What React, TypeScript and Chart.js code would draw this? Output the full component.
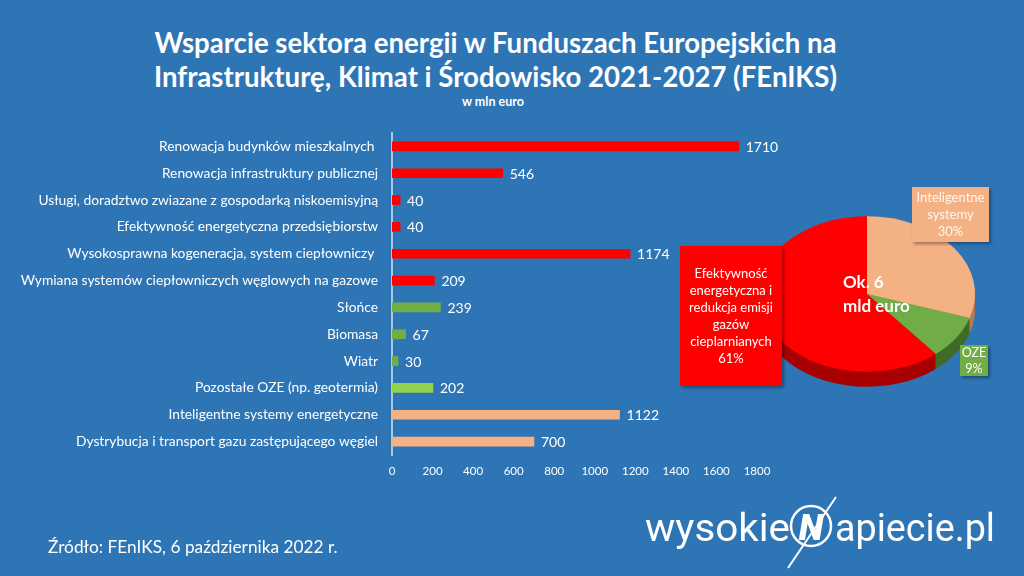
import React, { useEffect, useRef } from 'react';
import { Chart, registerables } from 'chart.js';
Chart.register(...registerables);

const categories = [
  'Renowacja budynków mieszkalnych ',
  'Renowacja infrastruktury publicznej',
  'Usługi, doradztwo zwiazane z gospodarką niskoemisyjną',
  'Efektywność energetyczna przedsiębiorstw',
  'Wysokosprawna kogeneracja, system ciepłowniczy ',
  'Wymiana systemów ciepłowniczych węglowych na gazowe',
  'Słońce',
  'Biomasa',
  'Wiatr',
  'Pozostałe OZE (np. geotermia)',
  'Inteligentne systemy energetyczne',
  'Dystrybucja i transport gazu zastępującego węgiel',
];
const values = [1710, 546, 40, 40, 1174, 209, 239, 67, 30, 202, 1122, 700];
const barColors = [
  '#FF0000', '#FF0000', '#FF0000', '#FF0000', '#FF0000', '#FF0000',
  '#70AD47', '#70AD47', '#70AD47', '#92D050',
  '#F4B183', '#F4B183',
];
const xTicks = [0, 200, 400, 600, 800, 1000, 1200, 1400, 1600, 1800];

const pieLabels = ['Inteligentne systemy', 'OZE', 'Efektywność energetyczna i redukcja emisji gazów cieplarnianych'];
const pieValues = [30, 9, 61];
const pieColors = ['#F4B183', '#70AD47', '#FF0000'];
const pieSideColors = ['#B87A52', '#3F6B25', '#A80000'];

const BG = '#2E75B6';
const FONT = 'Lato, "Open Sans", sans-serif';
const TILT = 0.72;
const DEPTH = 15;

const valueLabels = {
  id: 'valueLabels',
  afterDatasetsDraw(chart: any) {
    const ctx = chart.ctx;
    const meta = chart.getDatasetMeta(0);
    ctx.save();
    ctx.font = '14px ' + FONT;
    ctx.fillStyle = '#FFFFFF';
    ctx.textBaseline = 'middle';
    ctx.textAlign = 'left';
    meta.data.forEach((bar: any, i: number) => {
      ctx.fillText(String(values[i]), bar.x + 7, bar.y + 1);
    });
    ctx.restore();
  },
};

const pie3d = {
  id: 'pie3d',
  beforeDatasetsDraw(chart: any) {
    const ctx = chart.ctx;
    const meta = chart.getDatasetMeta(0);
    const first = meta.data[0];
    const cx = first.x;
    const cy = first.y;
    for (let d = DEPTH; d >= 1; d--) {
      ctx.save();
      ctx.translate(0, d);
      ctx.translate(cx, cy);
      ctx.scale(1, TILT);
      ctx.translate(-cx, -cy);
      meta.data.forEach((arc: any, i: number) => {
        const p = arc.getProps(['startAngle', 'endAngle', 'outerRadius'], true);
        ctx.beginPath();
        ctx.moveTo(cx, cy);
        ctx.arc(cx, cy, p.outerRadius, p.startAngle, p.endAngle);
        ctx.closePath();
        ctx.fillStyle = pieSideColors[i];
        ctx.fill();
      });
      ctx.restore();
    }
    ctx.save();
    ctx.translate(cx, cy);
    ctx.scale(1, TILT);
    ctx.translate(-cx, -cy);
  },
  afterDatasetsDraw(chart: any) {
    chart.ctx.restore();
  },
};

export default function App() {
  const barRef = useRef<HTMLCanvasElement>(null);
  const pieRef = useRef<HTMLCanvasElement>(null);

  useEffect(() => {
    const bar = new Chart(barRef.current!, {
      type: 'bar',
      data: {
        labels: categories,
        datasets: [{ data: values, backgroundColor: barColors, barThickness: 9, borderWidth: 0 }],
      },
      options: {
        indexAxis: 'y',
        responsive: false,
        animation: false,
        events: [],
        layout: { padding: { left: 0, right: 267, top: 133, bottom: 91 } },
        plugins: { legend: { display: false }, tooltip: { enabled: false }, title: { display: false } },
        scales: {
          y: {
            grid: { display: false, drawTicks: false },
            border: { display: true, color: '#A9C8E8', width: 2 },
            ticks: { color: '#FFFFFF', font: { family: FONT, size: 13.8 }, padding: 14 },
            afterFit: (s: any) => { s.width = 392; },
          },
          x: {
            min: 0,
            max: 1800,
            grid: { display: false, drawTicks: false },
            border: { display: false },
            afterBuildTicks: (s: any) => { s.ticks = xTicks.map((v) => ({ value: v })); },
            ticks: {
              color: '#FFFFFF',
              font: { family: FONT, size: 11.5 },
              padding: 9,
              callback: (v: any) => String(v),
            },
            afterFit: (s: any) => { s.height = 30; },
          },
        },
      },
      plugins: [valueLabels],
    } as any);

    const pie = new Chart(pieRef.current!, {
      type: 'pie',
      data: {
        labels: pieLabels,
        datasets: [{ data: pieValues, backgroundColor: pieColors, borderWidth: 0 }],
      },
      options: {
        responsive: false,
        animation: false,
        events: [],
        layout: { padding: 12 },
        plugins: { legend: { display: false }, tooltip: { enabled: false } },
      },
      plugins: [pie3d],
    } as any);

    return () => {
      bar.destroy();
      pie.destroy();
    };
  }, []);

  const abs = (o: React.CSSProperties): React.CSSProperties => ({ position: 'absolute', ...o });
  const boxShadow = '2px 2px 3px rgba(0,0,0,0.35)';

  return (
    <div style={{ position: 'fixed', left: 0, top: 0, width: 1024, height: 576, background: BG, fontFamily: FONT, color: '#FFFFFF', overflow: 'hidden' }}>
      <div style={abs({ left: 0, top: 26, width: 991, textAlign: 'center', fontWeight: 700, fontSize: 27.6, lineHeight: '34px' })}>
        Wsparcie sektora energii w Funduszach Europejskich na<br />
        Infrastrukturę, Klimat i Środowisko 2021-2027 (FEnIKS)
      </div>
      <div style={abs({ left: 0, top: 94, width: 986, textAlign: 'center', fontWeight: 700, fontSize: 12.5, lineHeight: '16px' })}>
        w mln euro
      </div>

      <canvas ref={barRef} width={1024} height={576} style={abs({ left: 0, top: 0, width: 1024, height: 576 })} />
      <canvas ref={pieRef} width={240} height={240} style={abs({ left: 747, top: 174, width: 240, height: 240 })} />

      <div style={abs({ left: 843, top: 270, fontWeight: 700, fontSize: 17, lineHeight: '24px' })}>
        Ok. 6<br />mld euro
      </div>

      <div style={abs({ left: 680, top: 246, width: 102, height: 140, background: '#FF0000', boxShadow, display: 'flex', alignItems: 'center', justifyContent: 'center', textAlign: 'center', fontSize: 13, lineHeight: '17px' })}>
        <div>Efektywność<br />energetyczna i<br />redukcja emisji<br />gazów<br />cieplarnianych<br />61%</div>
      </div>
      <div style={abs({ left: 912, top: 187, width: 77, height: 55, background: '#F4B183', boxShadow, display: 'flex', alignItems: 'center', justifyContent: 'center', textAlign: 'center', fontSize: 13, lineHeight: '17px', color: '#FFF8F0' })}>
        <div>Inteligentne<br />systemy<br />30%</div>
      </div>
      <div style={abs({ left: 960, top: 345, width: 28, height: 31, background: '#70AD47', boxShadow, display: 'flex', alignItems: 'center', justifyContent: 'center', textAlign: 'center', fontSize: 12.5, lineHeight: '16px' })}>
        <div>OZE<br />9%</div>
      </div>

      <div style={abs({ left: 48, top: 536, fontSize: 17.3, lineHeight: '22px' })}>
        Źródło: FEnIKS, 6 października 2022 r.
      </div>

      <svg width={1024} height={576} style={abs({ left: 0, top: 0 })}>
        <text x={645} y={541} textLength={145} lengthAdjust="spacingAndGlyphs" fill="#FFFFFF" style={{ fontFamily: 'Roboto, sans-serif', fontSize: 38 }}>wysokie</text>
        <ellipse cx={811} cy={526} rx={20} ry={20} fill="none" stroke="#FFFFFF" strokeWidth={2.5} />
        <text x={811} y={540} textAnchor="middle" fill="#FFFFFF" style={{ fontFamily: 'Roboto, sans-serif', fontSize: 36, fontWeight: 900, fontStyle: 'italic' }}>N</text>
        <line x1={836} y1={497} x2={788} y2={568} stroke="#FFFFFF" strokeWidth={2} />
        <text x={835} y={541} textLength={160} lengthAdjust="spacingAndGlyphs" fill="#FFFFFF" style={{ fontFamily: 'Roboto, sans-serif', fontSize: 38 }}>apiecie.pl</text>
      </svg>
    </div>
  );
}
